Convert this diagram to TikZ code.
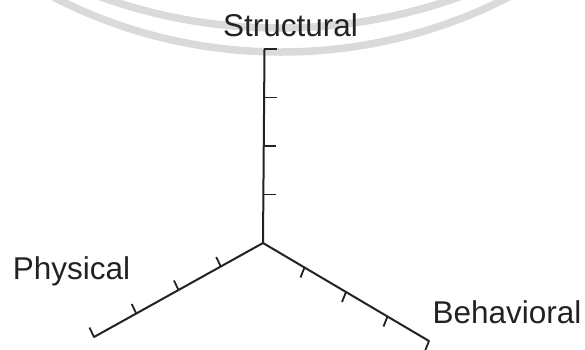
\documentclass[tikz,border=0pt]{standalone}
\usepackage{fontspec}
\setmainfont{Liberation Sans}
\usetikzlibrary{calc}
\definecolor{ink}{HTML}{1F2322}
\definecolor{wmark}{HTML}{DADADA}
\begin{document}
\begin{tikzpicture}[x=1pt,y=-1pt,
  axis/.style={draw=ink,line width=2pt,line cap=round,line join=miter},
  tick/.style={draw=ink,line width=1.8pt},
  lbl/.style={text=ink,font=\fontsize{31.5}{36}\selectfont,inner sep=0pt,anchor=base},
  wm/.style={draw=wmark,line width=7.5pt}]
\useasboundingbox (0,0) rectangle (585,349);
\begin{scope}
\clip (0,0) rectangle (585,349);
\draw[wm] (280,-502) circle (530);
\draw[wm] (281,-446) circle (498);
\end{scope}
% axes
\coordinate (O) at (263,243);
\coordinate (S) at (264.5,49);
\coordinate (P) at (94,337);
\coordinate (B) at (429,341);
\draw[axis] (S) -- (O) -- (P);
\draw[axis] (O) -- (B);
% structural ticks
\foreach \t in {0,0.25,0.5,0.75}{
  \draw[tick] ($(S)!\t!(O)$) -- ++(12.5,0);
}
% physical ticks
\foreach \t in {0.25,0.5,0.75,1}{
  \draw[tick] ($(O)!\t!(P)$) -- ++(-4.5,-9.5);
}
% behavioral ticks
\foreach \t in {0.25,0.5,0.75,1}{
  \draw[tick] ($(O)!\t!(B)$) -- ++(-4,10);
}
% labels
\node[lbl] (ls) at (290.5,36) {Structural};
\node[lbl] (lp) at (71.5,279) {Physical};
\node[lbl] (lb) at (507,323) {Behavioral};
\end{tikzpicture}
\end{document}
